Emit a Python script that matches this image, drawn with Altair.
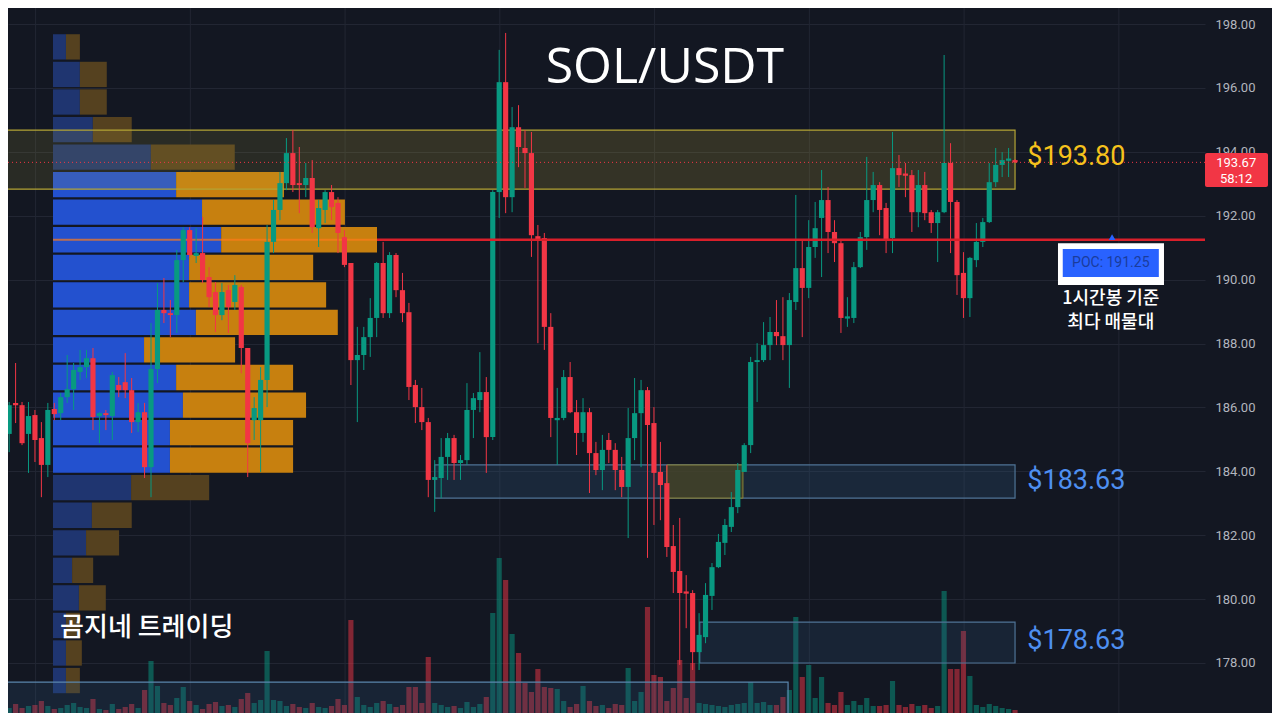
import altair as alt
import pandas as pd

# ---------------- candle data (1h, SOL/USDT) ----------------
opens = [185.92,185.17,186.14,186.07,185.17,185.76,185.04,184.20,185.95,185.82,
         186.32,186.57,187.11,187.26,187.54,185.73,185.82,185.73,186.70,186.79,
         186.54,185.54,185.85,184.13,187.20,189.05,188.95,188.89,190.61,191.55,
         190.74,190.83,190.08,189.61,188.89,189.67,189.30,189.77,187.86,185.60,
         185.60,186.86,191.18,192.18,193.02,193.96,193.02,192.96,193.18,191.61,
         192.18,192.74,192.40,191.33,190.52,187.48,187.64,188.20,188.80,190.52,
         188.95,190.77,189.67,188.98,186.70,186.01,185.54,183.73,183.79,184.45,
         185.04,184.26,184.35,185.92,186.23,186.48,185.07,192.74,196.18,192.58,
         194.77,194.12,193.96,191.36,191.30,188.52,185.60,185.67,186.95,185.85,
         185.20,185.85,184.57,184.04,184.98,184.67,184.04,183.51,185.04,185.82,
         186.54,185.51,183.98,183.63,181.66,180.88,180.22,180.19,178.34,178.81,
         180.10,181.00,181.76,182.26,182.88,183.98,184.82,187.42,187.48,187.95,
         188.36,188.23,187.95,189.30,190.36,189.74,191.02,191.93,192.49,191.49,
         191.14,188.80,188.80,190.39,191.33,192.49,192.96,192.24,191.30,193.49,
         193.30,193.27,192.11,192.96,192.11,191.77,192.11,193.65,192.43,190.21,
         189.42,190.61,191.18,191.80,193.05,193.59,193.74,193.74]
highs = [186.23,186.17,187.39,186.17,186.17,185.92,185.54,186.14,186.14,186.45,
         187.64,187.39,187.80,187.80,187.86,185.85,185.92,187.11,186.95,187.70,
         186.92,186.14,186.14,188.64,189.89,190.05,189.36,190.93,191.64,191.64,
         191.61,191.96,190.39,189.92,189.89,189.83,190.14,189.83,187.86,186.32,
         187.26,191.71,192.49,193.37,194.43,194.68,194.15,193.65,193.74,192.49,
         192.80,192.96,192.58,191.55,190.52,188.52,188.52,189.42,190.55,191.18,
         190.86,190.83,190.21,189.27,186.86,186.61,185.67,184.35,185.04,185.20,
         185.14,184.51,186.76,186.45,187.73,186.95,192.80,197.19,197.72,195.40,
         195.46,194.68,194.62,191.71,191.46,188.95,186.61,187.17,187.42,186.23,
         186.29,185.98,184.92,185.14,185.20,184.88,184.45,185.98,186.92,186.86,
         186.64,186.01,184.92,184.20,182.32,182.54,180.75,180.28,179.56,180.50,
         181.13,182.04,182.51,183.35,184.26,184.88,187.58,188.01,188.67,188.83,
         189.36,189.45,189.58,192.65,191.24,191.86,192.43,193.43,192.90,191.86,
         191.24,189.45,190.55,191.49,193.84,193.37,193.05,192.40,194.62,193.90,
         193.65,193.43,193.43,193.37,192.18,192.18,197.03,194.27,192.49,190.86,
         190.71,191.77,191.93,193.65,194.12,193.99,194.12,193.77]
lows = [184.41,184.60,185.51,184.82,183.95,184.29,183.19,183.82,185.60,185.60,
        186.14,185.92,186.86,186.92,185.29,184.88,185.29,184.98,186.32,186.29,
        185.20,185.23,183.79,183.19,186.76,188.64,188.20,188.33,189.92,190.71,
        190.52,189.89,189.14,188.36,188.73,188.33,189.05,187.07,183.82,184.98,
        183.98,186.01,190.83,191.86,192.80,192.74,192.08,192.58,191.46,191.02,
        191.77,191.86,190.83,190.39,186.70,185.54,187.17,187.58,188.20,188.80,
        188.80,189.45,188.67,186.23,185.51,185.29,183.19,182.73,183.16,183.73,
        183.73,183.73,184.20,185.04,185.85,183.95,184.98,191.93,192.08,192.11,
        193.52,192.87,190.71,188.01,187.80,185.07,184.20,185.60,185.82,184.51,
        184.92,183.32,183.88,183.41,184.26,183.41,183.19,181.91,184.35,184.13,
        181.29,182.32,182.47,181.32,180.19,177.94,179.09,177.78,177.78,178.62,
        179.66,180.97,181.38,182.10,182.69,183.98,184.57,186.17,187.42,187.48,
        187.95,187.48,186.61,189.05,188.20,189.42,190.68,190.08,190.83,190.55,
        188.33,188.52,188.64,190.36,190.93,192.11,191.39,190.83,190.83,192.90,
        192.58,191.49,191.64,191.86,191.46,190.55,192.08,190.83,189.52,188.80,
        188.83,190.39,191.02,191.77,192.90,193.21,193.21,193.65]
closes = [185.17,186.07,186.07,184.88,185.73,184.98,184.20,185.92,185.79,186.32,
          186.57,187.17,187.26,187.54,185.70,185.82,185.76,187.01,186.54,186.54,
          185.54,185.85,184.13,187.20,189.05,188.95,188.89,190.61,191.55,190.77,
          190.83,189.99,189.45,188.89,189.61,189.14,189.83,187.86,184.88,185.98,
          186.86,191.18,192.18,193.02,193.96,192.96,192.96,193.18,191.64,192.24,
          192.74,192.27,191.46,190.46,187.48,187.64,188.20,188.80,190.52,188.95,
          190.77,189.67,188.95,186.64,186.01,185.54,183.73,183.82,184.45,185.04,
          184.26,184.35,185.92,186.29,186.48,185.07,192.74,196.18,192.58,194.77,
          194.15,193.96,191.39,191.24,188.52,185.67,185.67,186.95,185.85,185.20,
          185.85,184.57,184.04,184.67,184.67,184.04,183.51,185.04,185.82,186.54,
          185.45,183.95,183.57,181.63,180.85,180.19,180.19,178.34,178.88,180.13,
          181.00,181.79,182.32,182.88,184.04,184.82,187.42,187.48,187.95,188.36,
          188.23,187.95,189.36,190.36,189.74,191.02,191.61,192.49,191.49,191.14,
          188.80,188.83,190.39,191.33,192.49,192.96,192.18,191.24,193.49,193.27,
          193.27,192.11,192.96,192.08,191.77,192.11,193.65,192.43,190.14,189.42,
          190.68,191.18,191.80,193.05,193.59,193.74,193.77,193.67]
volumes = [6,5,9,5,7,8,12,7,4,5,8,10,6,5,14,4,3,9,4,6,
           9,5,23,52,27,10,8,15,26,12,8,4,9,11,7,8,6,14,20,10,
           13,62,13,12,7,9,6,5,10,6,5,7,14,8,93,16,8,6,10,12,
           9,6,8,26,26,10,56,10,8,6,7,5,11,6,9,16,100,155,133,79,
           60,30,21,44,26,25,24,12,6,9,27,12,7,8,5,9,8,45,12,21,
           106,38,36,12,25,53,15,50,10,9,8,7,6,8,9,10,31,10,11,8,
           8,16,23,96,36,48,15,36,10,8,21,8,12,8,15,7,7,8,32,8,
           6,9,7,8,5,7,122,44,44,82,37,8,6,9,7,5,4,3]

# ---------------- volume profile (per price row, top -> bottom) ----------------
profile_up = [4.0, 8.3, 8.3, 12.3, 30.2, 38.0, 46.0, 51.9, 42.0, 42.0, 44.1, 28.1,
              38.0, 40.1, 36.1, 36.1, 24.1, 12.0, 10.2, 5.9, 8.0, 4.0, 4.0, 4.0]
profile_down = [4.3, 8.3, 8.3, 12.0, 25.9, 33.3, 44.1, 48.1, 38.3, 42.3, 43.8, 28.1,
                36.1, 38.0, 38.0, 38.0, 24.1, 12.3, 10.2, 6.5, 8.3, 4.3, 4.9, 4.3]
profile_top = 197.715
profile_step = 0.8623
value_area_rows = list(range(5, 16))
poc_price = 191.25
last_price = 193.67

# zones
zone_x1 = [-2, 44.9, 67.0, 103.0, 108.1, -2]
zone_x2 = [157, 157, 157, 114.8, 157, 121.8]
zone_top = [194.68, 194.68, 184.20, 184.20, 179.28, 177.40]
zone_bot = [192.83, 192.83, 183.16, 183.16, 178.00, 175.90]
zone_fill = ["#c2b13a", "#c2b13a", "#2f5579", "#4a4526", "#2f5579", "#2f5579"]
zone_fo = [0.13, 0.07, 0.28, 0.75, 0.22, 0.22]
zone_stroke = ["#b3a435", "#b3a435", "#4f7395", "#8c8437", "#4f7395", "#5b86ad"]
zone_sw = [1.2, 0, 1.2, 1.0, 1.2, 1.2]

grid_x = [5.1, 29.1, 53.1, 77.1, 101.1, 125.1, 149.1, 173.1]

# ---------------- scales ----------------
xs = alt.Scale(domain=[0.822, 186.46], nice=False, zero=False)
ys = alt.Scale(domain=[176.435, 198.501], nice=False, zero=False)
vs = alt.Scale(domain=[0, 705], nice=False)
ps = alt.Scale(domain=[0, 100], range=[45, 369], nice=False)

BG = "#131722"
GREEN = "#089981"
RED = "#f23645"

n = len(opens)
df = pd.DataFrame({"i": list(range(n)), "open": opens, "high": highs,
                   "low": lows, "close": closes, "vol": volumes})

base = alt.Chart(df).transform_calculate(
    xl="datum.i - 0.4", xr="datum.i + 0.4",
    col=f"datum.close >= datum.open ? '{GREEN}' : '{RED}'",
    btop="max(datum.open, datum.close) + (abs(datum.open - datum.close) < 0.04 ? 0.02 : 0)",
    bbot="min(datum.open, datum.close) - (abs(datum.open - datum.close) < 0.04 ? 0.02 : 0)",
)

# axis / grid layer
axis_layer = alt.Chart(pd.DataFrame({"p": [188.0]})).mark_point(opacity=0).encode(
    y=alt.Y("p:Q", scale=ys, axis=alt.Axis(
        orient="right", values=[178, 180, 182, 184, 186, 188, 190, 192, 194, 196, 198],
        format=".2f", labelColor="#b2b5be", labelFontSize=13, labelFont="Roboto",
        domain=False, ticks=False, grid=True, gridColor="#222633", gridWidth=1,
        labelPadding=10, title=None)),
)

vgrid = alt.Chart(pd.DataFrame({"g": grid_x})).mark_rule(color="#222633", strokeWidth=1).encode(
    x=alt.X("g:Q", scale=xs, axis=None))

vol_layer = base.mark_rect(opacity=0.5, clip=True).encode(
    x=alt.X("xl:Q", scale=xs, axis=None), x2="xr:Q",
    y=alt.Y("vol:Q", scale=vs, axis=None), y2=alt.Y2(datum=0),
    fill=alt.Fill("col:N", scale=None))

# volume profile
prow = []
for k, (u, d) in enumerate(zip(profile_up, profile_down)):
    top = profile_top - k * profile_step - 0.035
    bot = profile_top - (k + 1) * profile_step + 0.035
    bright = k in value_area_rows
    prow.append({"a": 0, "b": u, "t": top, "bt": bot, "f": "#2351cf" if bright else "#1f3570"})
    prow.append({"a": u, "b": u + d, "t": top, "bt": bot, "f": "#c7800f" if bright else "#55411f"})
pdf = pd.DataFrame(prow)
profile_layer = alt.Chart(pdf).mark_rect().encode(
    x=alt.X("a:Q", scale=ps, axis=None), x2="b:Q",
    y=alt.Y("t:Q", scale=ys, axis=None), y2="bt:Q",
    fill=alt.Fill("f:N", scale=None))
poc_row_line = alt.Chart(pd.DataFrame({"a": [0], "b": [100], "p": [poc_price]})).mark_rule(
    color="#ff7a1a", strokeWidth=2, opacity=0.7).encode(
    x=alt.X("a:Q", scale=ps, axis=None), x2="b:Q", y=alt.Y("p:Q", scale=ys, axis=None))

# zones
zdf = pd.DataFrame({"x1": zone_x1, "x2": zone_x2, "t": zone_top, "b": zone_bot,
                    "f": zone_fill, "fo": zone_fo, "s": zone_stroke, "sw": zone_sw})
zone_layer = alt.Chart(zdf).mark_rect(clip=True).encode(
    x=alt.X("x1:Q", scale=xs, axis=None), x2="x2:Q",
    y=alt.Y("t:Q", scale=ys, axis=None), y2="b:Q",
    fill=alt.Fill("f:N", scale=None), fillOpacity=alt.FillOpacity("fo:Q", scale=None),
    stroke=alt.Stroke("s:N", scale=None), strokeWidth=alt.StrokeWidth("sw:Q", scale=None))

# candles
wicks = base.mark_rule(strokeWidth=1).encode(
    x=alt.X("i:Q", scale=xs, axis=None),
    y=alt.Y("high:Q", scale=ys, axis=None), y2="low:Q",
    color=alt.Color("col:N", scale=None))
bodies = base.mark_rect().encode(
    x=alt.X("xl:Q", scale=xs, axis=None), x2="xr:Q",
    y=alt.Y("btop:Q", scale=ys, axis=None), y2="bbot:Q",
    fill=alt.Fill("col:N", scale=None))

# lines
poc_line = alt.Chart(pd.DataFrame({"a": [58.05], "b": [186.46], "p": [poc_price]})).mark_rule(
    color="#d91f2a", strokeWidth=2.5).encode(
    x=alt.X("a:Q", scale=xs, axis=None), x2="b:Q", y=alt.Y("p:Q", scale=ys, axis=None))
price_line = alt.Chart(pd.DataFrame({"p": [last_price]})).mark_rule(
    color=RED, strokeWidth=1, strokeDash=[1, 3]).encode(y=alt.Y("p:Q", scale=ys, axis=None))

# POC label box
poc_box = alt.Chart(pd.DataFrame({"x1": [163.66, 164.4], "x2": [180.1, 179.3],
                                  "t": [191.14, 190.96], "b": [189.83, 190.08],
                                  "f": ["#ffffff", "#2962ff"]})).mark_rect().encode(
    x=alt.X("x1:Q", scale=xs, axis=None), x2="x2:Q",
    y=alt.Y("t:Q", scale=ys, axis=None), y2="b:Q", fill=alt.Fill("f:N", scale=None))
poc_tri = alt.Chart(pd.DataFrame({"x": [172.05], "p": [191.33]})).mark_point(
    shape="triangle-up", size=45, filled=True, color="#2962ff", opacity=1).encode(
    x=alt.X("x:Q", scale=xs, axis=None), y=alt.Y("p:Q", scale=ys, axis=None))
poc_text = alt.Chart(pd.DataFrame({"x": [171.85], "p": [190.52], "t": ["POC: 191.25"]})).mark_text(
    font="Roboto", fontSize=14, color="#1a3c9c", align="center", baseline="middle").encode(
    x=alt.X("x:Q", scale=xs, axis=None), y=alt.Y("p:Q", scale=ys, axis=None), text="t:N")

# price badge
badge = alt.Chart(pd.DataFrame({"x1": [186.46], "x2": [196.23], "t": [193.96], "b": [192.90]})).mark_rect(
    color=RED, cornerRadius=2).encode(
    x=alt.X("x1:Q", scale=xs, axis=None), x2="x2:Q",
    y=alt.Y("t:Q", scale=ys, axis=None), y2="b:Q")
badge_text = alt.Chart(pd.DataFrame({"x": [191.3, 191.3], "p": [193.66, 193.14],
                                     "t": ["193.67", "58:12"]})).mark_text(
    font="Roboto", fontSize=13, color="#ffffff", align="center", baseline="middle").encode(
    x=alt.X("x:Q", scale=xs, axis=None), y=alt.Y("p:Q", scale=ys, axis=None), text="t:N")

# level labels
lvl = pd.DataFrame({"x": [158.9, 158.9, 158.9], "p": [193.84, 183.69, 178.69],
                    "t": ["$193.80", "$183.63", "$178.63"],
                    "c": ["#f6c21c", "#4e8ff0", "#4e8ff0"]})
lvl_text = alt.Chart(lvl).mark_text(font="Roboto", fontSize=27, align="left", baseline="middle").encode(
    x=alt.X("x:Q", scale=xs, axis=None), y=alt.Y("p:Q", scale=ys, axis=None), text="t:N",
    color=alt.Color("c:N", scale=None))

title_text = alt.Chart(pd.DataFrame({"x": [102.7], "p": [196.62], "t": ["SOL/USDT"]})).mark_text(
    font="Open Sans", fontSize=50, color="#ffffff", align="center", baseline="middle").encode(
    x=alt.X("x:Q", scale=xs, axis=None), y=alt.Y("p:Q", scale=ys, axis=None), text="t:N")

brand_text = alt.Chart(pd.DataFrame({"x": [8.9], "p": [179.09], "t": ["곰지네 트레이딩"]})).mark_text(
    font="Noto Sans CJK KR", fontSize=26, fontWeight=500, color="#ffffff", align="left",
    baseline="middle").encode(
    x=alt.X("x:Q", scale=xs, axis=None), y=alt.Y("p:Q", scale=ys, axis=None), text="t:N")

note_text = alt.Chart(pd.DataFrame({"x": [171.85, 171.85], "p": [189.39, 188.64],
                                    "t": ["1시간봉 기준", "최다 매물대"]})).mark_text(
    font="Noto Sans CJK KR", fontSize=18, fontWeight=500, color="#ffffff", align="center",
    baseline="middle").encode(
    x=alt.X("x:Q", scale=xs, axis=None), y=alt.Y("p:Q", scale=ys, axis=None), text="t:N")

chart = alt.layer(
    axis_layer, vgrid, vol_layer, profile_layer, poc_row_line, zone_layer,
    wicks, bodies, price_line, poc_line, poc_box, poc_tri, poc_text,
    badge, badge_text, lvl_text, title_text, brand_text, note_text,
).resolve_scale(
    x="independent", y="independent"
).properties(
    width=1197, height=705,
    autosize=alt.AutoSizeParams(type="none"),
    padding={"left": 0, "top": 0, "right": 67, "bottom": 0},
    background=BG,
).configure_view(strokeWidth=0)

chart.save("out.html", embed_options={"renderer": "svg", "actions": False})
